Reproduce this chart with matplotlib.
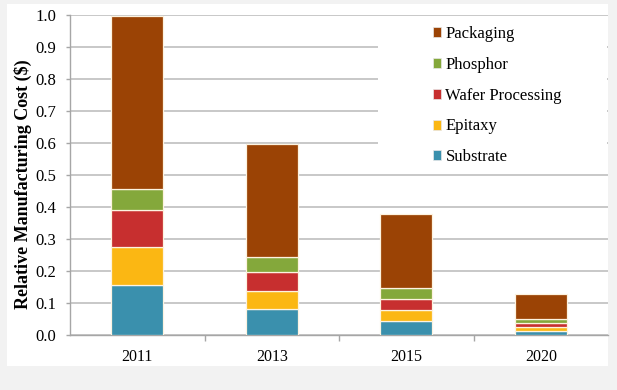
import matplotlib
matplotlib.use("Agg")
import matplotlib.pyplot as plt
from matplotlib.patches import Rectangle, Patch
import numpy as np

years = ["2011", "2013", "2015", "2020"]
substrate = [0.155, 0.080, 0.045, 0.013]
epitaxy = [0.120, 0.058, 0.033, 0.012]
wafer = [0.115, 0.060, 0.035, 0.012]
phosphor = [0.066, 0.047, 0.033, 0.013]
packaging = [0.540, 0.352, 0.231, 0.077]

series = [
    ("Substrate", substrate, "#3a90ad"),
    ("Epitaxy", epitaxy, "#fbb713"),
    ("Wafer Processing", wafer, "#c72f2f"),
    ("Phosphor", phosphor, "#84a83b"),
    ("Packaging", packaging, "#9b4305"),
]

plt.rcParams['font.family'] = ['Liberation Serif', 'DejaVu Serif']

W, H = 617, 390
fig = plt.figure(figsize=(W / 100, H / 100), dpi=100, facecolor="#f2f2f2")
# white chart area
fig.patches.append(Rectangle((7 / W, 1 - 366 / H), (608 - 7) / W, (366 - 4) / H,
                             transform=fig.transFigure, facecolor="white",
                             edgecolor="none", zorder=-5))

ax = fig.add_axes([70 / W, 1 - 335 / H, (608 - 70) / W, (335 - 15) / H])
ax.set_facecolor("none")

x = np.arange(len(years))
bottom = np.zeros(len(years))
for name, vals, col in series:
    ax.bar(x, vals, width=0.39, bottom=bottom, color=col, edgecolor="#fdf3e0",
           linewidth=0.9, zorder=3)
    bottom += np.array(vals)

ax.set_xlim(-0.5, 3.5)
ax.set_ylim(0, 1.0)
ax.set_yticks(np.arange(0, 1.01, 0.1))
ax.set_yticklabels([f"{v:.1f}" for v in np.arange(0, 1.01, 0.1)])
ax.set_xticks(x)
ax.set_xticklabels(years)
ax.set_xticks([0.5, 1.5, 2.5], minor=True)
ax.tick_params(axis='x', which='major', length=0, pad=10, labelsize=11.5)
ax.tick_params(axis='x', which='minor', length=4, color="#a6a6a6", width=1)
ax.tick_params(axis='y', length=3, color="#a6a6a6", width=1, labelsize=12, pad=7)
ax.grid(axis='y', color="#bfbfbf", linewidth=1.2, zorder=1)
ax.set_axisbelow(True)
for s in ["top", "right"]:
    ax.spines[s].set_visible(False)
for s in ["left", "bottom"]:
    ax.spines[s].set_color("#a6a6a6")
    ax.spines[s].set_linewidth(1)

ax.set_ylabel("Relative Manufacturing Cost ($)", fontsize=13, fontweight="bold",
              labelpad=2)
ax.yaxis.label.set_y(0.47)

# legend background covering gridlines
cover = Rectangle((378 / W, 1 - 173 / H), (607 - 378) / W, (173 - 17) / H,
                  transform=fig.transFigure, facecolor="white",
                  edgecolor="none", zorder=2, clip_on=False)
ax.add_patch(cover)

handles = [Patch(facecolor=col, edgecolor="#e8e8e8", linewidth=0.5)
           for name, vals, col in series[::-1]]
labels = [name for name, vals, col in series[::-1]]
leg = fig.legend(handles, labels, loc="upper left",
                 bbox_to_anchor=(433 / W, 1 - 26 / H), frameon=False,
                 fontsize=12, handlelength=0.5, handleheight=0.55,
                 handletextpad=0.25, labelspacing=0.89, borderpad=0,
                 borderaxespad=0)
leg.set_zorder(5)

fig.savefig("out.png", dpi=100, facecolor=fig.get_facecolor())
